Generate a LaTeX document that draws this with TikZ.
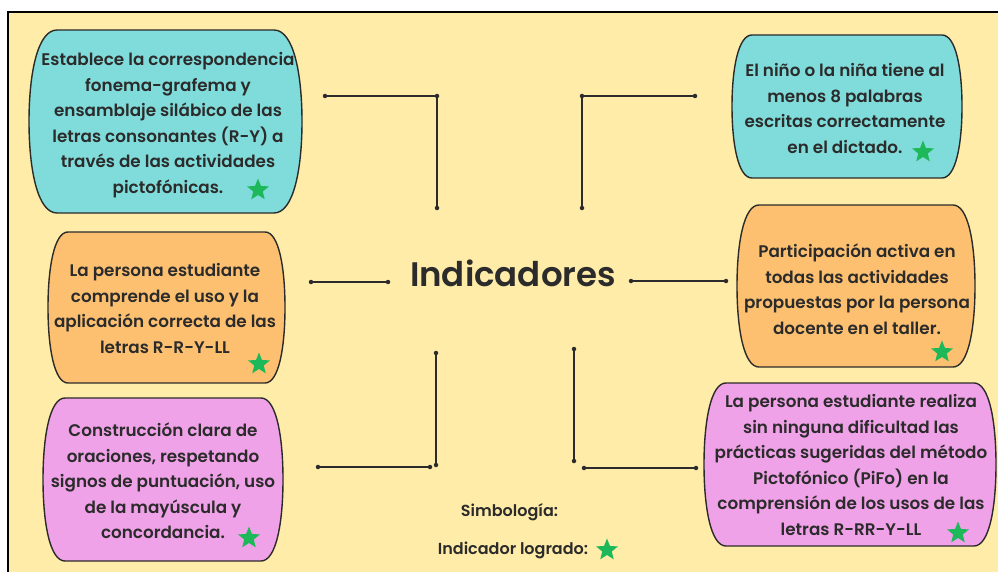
\documentclass[tikz,border=0pt]{standalone}
\usepackage{fontspec}
\setmainfont{Poppins}[UprightFont={* SemiBold}]
\usetikzlibrary{shapes.geometric}
\definecolor{bgyellow}{HTML}{FFECA8}
\definecolor{boxcyan}{HTML}{80DCDA}
\definecolor{boxorange}{HTML}{FCC070}
\definecolor{boxpink}{HTML}{F0A2E8}
\definecolor{stargreen}{HTML}{1DB85A}
\definecolor{ink}{HTML}{2B2B2B}
\tikzset{
  boxline/.style={draw=ink, line width=1.4pt},
  boxtext/.style={text=ink, align=center, inner sep=0pt, font=\fontsize{16.8}{25.5}\selectfont},
  starmark/.style={star, star points=5, star point ratio=2.3, fill=stargreen, minimum size=23pt, inner sep=0pt},
  conn/.style={draw=ink, line width=1.2pt},
  dotmark/.style={circle, fill=ink, inner sep=0pt, minimum size=4.5pt},
}
% barrel box: x0,y0,x1,y1,inset,fill
\newcommand{\barrelbox}[6]{%
  \pgfmathsetmacro{\bxa}{#1+#5}\pgfmathsetmacro{\bxb}{#3-#5}%
  \pgfmathsetmacro{\bxc}{#1+0.3*#5}\pgfmathsetmacro{\bxd}{#3-0.3*#5}%
  \pgfmathsetmacro{\bym}{(#2+#4)/2}%
  \pgfmathsetmacro{\byt}{#2+0.24*(#4-#2)}\pgfmathsetmacro{\byb}{#4-0.24*(#4-#2)}%
  \path[boxline, fill=#6] (\bxa,#2) -- (\bxb,#2) .. controls (\bxd,#2) and (#3,\byt) .. (#3,\bym)
     .. controls (#3,\byb) and (\bxd,#4) .. (\bxb,#4) -- (\bxa,#4)
     .. controls (\bxc,#4) and (#1,\byb) .. (#1,\bym)
     .. controls (#1,\byt) and (\bxc,#2) .. (\bxa,#2) -- cycle;%
}
\begin{document}
\begin{tikzpicture}[x=1pt,y=-1pt]
\useasboundingbox (0,0) rectangle (998,572);
\fill[white] (0,0) rectangle (998,572);
\clip (0,0) rectangle (998,572);
\draw[fill=bgyellow, line width=2pt, draw=black] (8,12) rectangle (1010,590);

% boxes
\barrelbox{29}{30}{302}{213}{28}{boxcyan}
\barrelbox{732}{35}{962}{178}{20}{boxcyan}
\barrelbox{48}{232}{285}{383}{20}{boxorange}
\barrelbox{737}{205}{975}{367}{22}{boxorange}
\barrelbox{43}{398}{283}{561}{22}{boxpink}
\barrelbox{704}{383}{996}{546}{22}{boxpink}

\node[boxtext] (t1) at (168,125) {Establece la correspondencia\\fonema-grafema y\\ensamblaje silábico de las\\letras consonantes (R-Y) a\\través de las actividades\\pictofónicas.};
\node[boxtext] (t2) at (845,108.5) {El niño o la niña tiene al\\menos 8 palabras\\escritas correctamente\\en el dictado.};
\node[boxtext] (t3) at (165,308.5) {La persona estudiante\\comprende el uso y la\\aplicación correcta de las\\letras R-R-Y-LL};
\node[boxtext] (t4) at (857,289) {Participación activa en\\todas las actividades\\propuestas por la persona\\docente en el taller.};
\node[boxtext] (t5) at (163,481) {Construcción clara de\\oraciones, respetando\\signos de puntuación, uso\\de la mayúscula y\\concordancia.};
\node[boxtext] (t6) at (851,465) {La persona estudiante realiza\\sin ninguna dificultad las\\prácticas sugeridas del método\\Pictofónico (PiFo) en la\\comprensión de los usos de las\\letras R-RR-Y-LL};

% stars
\node[starmark] (s1) at (258,190) {};
\node[starmark] (s2) at (923,152) {};
\node[starmark] (s3) at (259,364) {};
\node[starmark] (s4) at (942,352) {};
\node[starmark] (s5) at (249,538) {};
\node[starmark] (s6) at (958,533) {};

% title
\node[text=ink, font=\fontsize{34}{40}\selectfont, inner sep=0pt] (title) at (513,273) {Indicadores};

% legend
\node[text=ink, font=\fontsize{16}{18}\selectfont, inner sep=0pt] (leg1) at (509.5,512) {Simbología:};
\node[text=ink, font=\fontsize{16}{18}\selectfont, inner sep=0pt] (leg2) at (513,550) {Indicador logrado:};
\node[starmark] (s7) at (607,550) {};

% connectors
\coordinate (a1) at (325,96); \coordinate (a2) at (437,96); \coordinate (a3) at (437,208);
\coordinate (b1) at (695,96); \coordinate (b2) at (582,96); \coordinate (b3) at (582,208);
\coordinate (c1) at (311,282); \coordinate (c2) at (388,282);
\coordinate (d1) at (631,281); \coordinate (d2) at (726,281);
\coordinate (e1) at (436,353); \coordinate (e2) at (436,465);
\coordinate (e3) at (318,467); \coordinate (e4) at (430,467);
\coordinate (f1) at (574,349); \coordinate (f2) at (574,461);
\coordinate (f3) at (584,468); \coordinate (f4) at (696,468);
\draw[conn] (a1) -- (a2) -- (a3);
\draw[conn] (b1) -- (b2) -- (b3);
\draw[conn] (c1) -- (c2);
\draw[conn] (d1) -- (d2);
\draw[conn] (e1) -- (e2);
\draw[conn] (e3) -- (e4);
\draw[conn] (f1) -- (f2);
\draw[conn] (f3) -- (f4);
\foreach \p in {a1,a2,a3,b1,b2,b3,c1,c2,d1,d2,e1,e2,e3,e4,f1,f2,f3,f4}
  \node[dotmark] at (\p) {};
\end{tikzpicture}
\end{document}
